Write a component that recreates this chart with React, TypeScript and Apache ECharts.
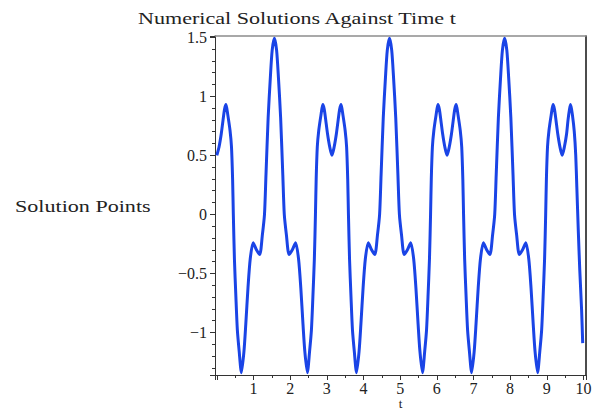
import { useEffect, useRef } from 'react';
import * as echarts from 'echarts';

const titleText = 'Numerical Solutions Against Time t';
const yAxisTitle = 'Solution Points';
const xAxisTitle = 't';

// values, cycle by cycle
const tCycle1 = [0.00, 0.06, 0.12, 0.17, 0.21, 0.25, 0.30, 0.36, 0.40, 0.43, 0.45, 0.48, 0.52, 0.56, 0.61, 0.67, 0.74, 0.79, 0.85, 0.91, 0.99, 1.08, 1.17, 1.24, 1.30, 1.34, 1.40, 1.46, 1.51, 1.57, 1.63, 1.68, 1.74, 1.80, 1.84, 1.90, 1.97, 2.06, 2.15, 2.23, 2.29, 2.35, 2.40, 2.47, 2.53, 2.58, 2.62, 2.66, 2.69, 2.71, 2.74, 2.78, 2.84, 2.89, 2.93, 2.97, 3.02, 3.08];
const yCycle1 = [0.50, 0.57, 0.68, 0.80, 0.89, 0.93, 0.84, 0.71, 0.57, 0.30, 0.00, -0.38, -0.70, -0.98, -1.16, -1.34, -1.16, -0.93, -0.62, -0.38, -0.24, -0.30, -0.34, -0.18, 0.00, 0.33, 0.82, 1.16, 1.39, 1.49, 1.39, 1.16, 0.82, 0.33, 0.00, -0.18, -0.34, -0.30, -0.24, -0.38, -0.62, -0.93, -1.16, -1.34, -1.16, -0.98, -0.70, -0.38, 0.00, 0.30, 0.57, 0.71, 0.84, 0.93, 0.89, 0.80, 0.68, 0.57];

const tCycle2 = [3.14, 3.20, 3.26, 3.31, 3.35, 3.39, 3.44, 3.50, 3.54, 3.57, 3.59, 3.62, 3.66, 3.70, 3.75, 3.81, 3.88, 3.93, 3.99, 4.05, 4.13, 4.22, 4.31, 4.38, 4.44, 4.48, 4.54, 4.60, 4.65, 4.71, 4.77, 4.82, 4.88, 4.94, 4.98, 5.04, 5.11, 5.20, 5.29, 5.37, 5.43, 5.49, 5.54, 5.61, 5.67, 5.72, 5.76, 5.80, 5.83, 5.85, 5.88, 5.92, 5.98, 6.03, 6.07, 6.11, 6.16, 6.22];
const yCycle2 = [0.50, 0.57, 0.68, 0.80, 0.89, 0.93, 0.84, 0.71, 0.57, 0.30, 0.00, -0.38, -0.70, -0.98, -1.16, -1.34, -1.16, -0.93, -0.62, -0.38, -0.24, -0.30, -0.34, -0.18, 0.00, 0.33, 0.82, 1.16, 1.39, 1.49, 1.39, 1.16, 0.82, 0.33, 0.00, -0.18, -0.34, -0.30, -0.24, -0.38, -0.62, -0.93, -1.16, -1.34, -1.16, -0.98, -0.70, -0.38, 0.00, 0.30, 0.57, 0.71, 0.84, 0.93, 0.89, 0.80, 0.68, 0.57];

const tCycle3 = [6.28, 6.34, 6.40, 6.45, 6.49, 6.53, 6.58, 6.64, 6.68, 6.71, 6.73, 6.76, 6.80, 6.84, 6.89, 6.95, 7.02, 7.07, 7.13, 7.19, 7.27, 7.36, 7.45, 7.52, 7.58, 7.62, 7.68, 7.74, 7.79, 7.85, 7.91, 7.96, 8.02, 8.08, 8.12, 8.18, 8.25, 8.34, 8.43, 8.51, 8.57, 8.63, 8.68, 8.75, 8.81, 8.86, 8.90, 8.94, 8.97, 8.99, 9.02, 9.06, 9.12, 9.17, 9.21, 9.25, 9.30, 9.36];
const yCycle3 = [0.50, 0.57, 0.68, 0.80, 0.89, 0.93, 0.84, 0.71, 0.57, 0.30, 0.00, -0.38, -0.70, -0.98, -1.16, -1.34, -1.16, -0.93, -0.62, -0.38, -0.24, -0.30, -0.34, -0.18, 0.00, 0.33, 0.82, 1.16, 1.39, 1.49, 1.39, 1.16, 0.82, 0.33, 0.00, -0.18, -0.34, -0.30, -0.24, -0.38, -0.62, -0.93, -1.16, -1.34, -1.16, -0.98, -0.70, -0.38, 0.00, 0.30, 0.57, 0.71, 0.84, 0.93, 0.89, 0.80, 0.68, 0.57];

const tCycle4 = [9.42, 9.48, 9.54, 9.58, 9.62, 9.65, 9.70, 9.75, 9.79, 9.82, 9.86, 9.90, 9.95, 9.98];
const yCycle4 = [0.50, 0.57, 0.68, 0.80, 0.89, 0.93, 0.84, 0.70, 0.50, 0.23, -0.14, -0.47, -0.81, -1.09];

const tValues = [...tCycle1, ...tCycle2, ...tCycle3, ...tCycle4];
const yValues = [...yCycle1, ...yCycle2, ...yCycle3, ...yCycle4];

const X_MIN = -0.05;
const X_MAX = 10.07;
const Y_MIN = -1.36;
const Y_MAX = 1.51;

const SERIF = "'Liberation Serif', 'DejaVu Serif', serif";
const TEXT = '#222';
const AXIS = '#333';

export default function App() {
  const ref = useRef<HTMLDivElement>(null);

  useEffect(() => {
    if (!ref.current) return;
    const chart = echarts.init(ref.current, null, { renderer: 'svg' });
    const points = tValues.map((t, i) => [t, yValues[i]]);

    const xLabel = (v: number) => {
      const r = Math.round(v);
      if (Math.abs(v - r) > 1e-6 || r === 0) return '';
      return String(r);
    };
    const yLabel = (v: number) => {
      const r = Math.round(v * 2) / 2;
      if (Math.abs(v - r) > 1e-6) return '';
      return r < 0 ? '\u2212' + String(-r) : String(r);
    };

    chart.setOption({
      animation: false,
      backgroundColor: '#fff',
      grid: {
        left: 215,
        top: 36,
        width: 371,
        height: 339,
        containLabel: false,
        outerBoundsMode: 'none',
      },
      graphic: [
        {
          type: 'text',
          x: 138,
          y: 18,
          scaleX: 1.3,
          style: {
            text: titleText,
            fontFamily: SERIF,
            fontSize: 17,
            fill: TEXT,
            textAlign: 'left',
            textVerticalAlign: 'middle',
          },
        },
        {
          type: 'text',
          x: 15,
          y: 206,
          scaleX: 1.3,
          style: {
            text: yAxisTitle,
            fontFamily: SERIF,
            fontSize: 17,
            fill: TEXT,
            textAlign: 'left',
            textVerticalAlign: 'middle',
          },
        },
      ],
      xAxis: [
        {
          type: 'value',
          position: 'bottom',
          min: X_MIN,
          max: X_MAX,
          minInterval: 1,
          maxInterval: 1,
          name: xAxisTitle,
          nameLocation: 'middle',
          nameGap: 22,
          nameMoveOverlap: false,
          nameTextStyle: { fontFamily: SERIF, fontSize: 13, lineHeight: 13, color: TEXT },
          axisLine: { show: true, onZero: false, lineStyle: { color: AXIS, width: 1 } },
          axisTick: { show: true, inside: false, length: 5, lineStyle: { color: AXIS } },
          axisLabel: {
            formatter: xLabel,
            fontFamily: SERIF,
            fontSize: 16,
            lineHeight: 14,
            color: TEXT,
            margin: 6,
          },
          splitLine: { show: false },
        },
        {
          type: 'value',
          position: 'bottom',
          min: X_MIN,
          max: X_MAX,
          minInterval: 0.5,
          maxInterval: 0.5,
          axisLine: { show: false, onZero: false },
          axisTick: { show: true, inside: false, length: 3, lineStyle: { color: AXIS } },
          axisLabel: { show: false },
          splitLine: { show: false },
        },
        {
          type: 'value',
          position: 'top',
          min: X_MIN,
          max: X_MAX,
          axisLine: { show: true, onZero: false, lineStyle: { color: '#8c8c8c', width: 1.5 } },
          axisTick: { show: false },
          axisLabel: { show: false },
          splitLine: { show: false },
        },
      ],
      yAxis: [
        {
          type: 'value',
          position: 'left',
          min: Y_MIN,
          max: Y_MAX,
          minInterval: 0.5,
          maxInterval: 0.5,
          axisLine: { show: true, onZero: false, lineStyle: { color: AXIS, width: 1 } },
          axisTick: { show: true, inside: false, length: 5, lineStyle: { color: AXIS } },
          axisLabel: { formatter: yLabel, fontFamily: SERIF, fontSize: 16, color: TEXT, margin: 8 },
          splitLine: { show: false },
        },
        {
          type: 'value',
          position: 'left',
          min: Y_MIN,
          max: Y_MAX,
          minInterval: 0.1,
          maxInterval: 0.1,
          axisLine: { show: false, onZero: false },
          axisTick: { show: true, inside: false, length: 3, lineStyle: { color: AXIS } },
          axisLabel: { show: false },
          splitLine: { show: false },
        },
        {
          type: 'value',
          position: 'right',
          min: Y_MIN,
          max: Y_MAX,
          axisLine: { show: true, onZero: false, lineStyle: { color: '#111', width: 1.5 } },
          axisTick: { show: false },
          axisLabel: { show: false },
          splitLine: { show: false },
        },
      ],
      series: [
        {
          type: 'line',
          xAxisIndex: 0,
          yAxisIndex: 0,
          data: points,
          showSymbol: false,
          smooth: 0.25,
          lineStyle: { color: '#1a44e6', width: 3 },
          itemStyle: { color: '#1a44e6' },
        },
      ],
    });

    return () => chart.dispose();
  }, []);

  return (
    <div
      ref={ref}
      style={{ position: 'fixed', left: 0, top: 0, width: 602, height: 410 }}
    />
  );
}
